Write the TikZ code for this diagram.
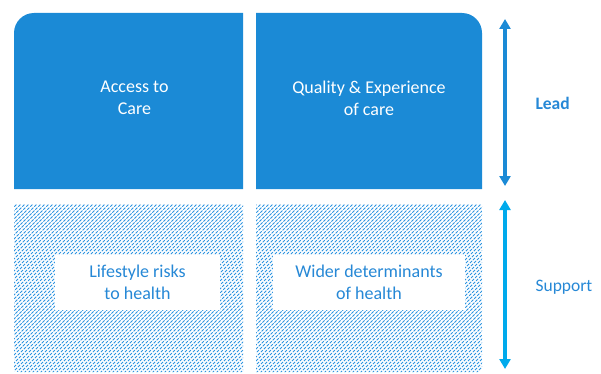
\documentclass[tikz,border=0pt]{standalone}
\usepackage{fontspec}
\setmainfont{Carlito}
\usetikzlibrary{arrows.meta}
\definecolor{leadblue}{RGB}{27,138,214}
\definecolor{supportblue}{RGB}{0,170,236}
\definecolor{hatchblue}{RGB}{45,148,224}
\definecolor{labelblue}{RGB}{38,136,214}
\tikzset{
  x=1pt, y=1pt,
  leadbox/.style={fill=leadblue},
  hatchline/.style={draw=hatchblue, line width=0.8pt, dash pattern=on 3pt off 1.2pt},
  boxtext/.style={font=\fontsize{18}{22}\selectfont, align=center, text=white},
  innerbox/.style={fill=white, minimum width=165pt, minimum height=55pt, inner sep=0pt,
    font=\fontsize{18}{22}\selectfont, align=center, text=labelblue},
  sidearrow/.style={line width=3.2pt, {Triangle[width=11pt,length=10pt]}-{Triangle[width=11pt,length=10pt]}},
  sidelabel/.style={font=\fontsize{17.5}{20}\selectfont, text=labelblue, anchor=west}
}
\begin{document}
\begin{tikzpicture}
\useasboundingbox (0,0) rectangle (601,373);
% lead row: two solid boxes, outer top corners rounded
\fill[leadbox] (14,184) -- (14,340) arc[start angle=180,end angle=90,radius=20] -- (243,360) -- (243,184) -- cycle;
\fill[leadbox] (256,184) -- (256,360) -- (462,360) arc[start angle=90,end angle=0,radius=20] -- (482,184) -- cycle;
\node[boxtext] (access) at (134.5,275) {Access to\\Care};
\node[boxtext] (quality) at (369,275) {Quality \& Experience\\of care};
% support row: diagonally hatched boxes
\begin{scope}
  \clip (14,1) -- (14,169) -- (243,169) -- (243,1) -- (18,1) arc[start angle=270,end angle=180,radius=4] -- cycle;
  \foreach \c in {-160,-156,...,244} \draw[hatchline] (\c,0) -- ++(175,175);
\end{scope}
\begin{scope}
  \clip (256,1) -- (256,169) -- (482,169) -- (482,5) arc[start angle=0,end angle=-90,radius=4] -- cycle;
  \foreach \c in {84,88,...,484} \draw[hatchline] (\c,0) -- ++(175,175);
\end{scope}
% white label panels
\node[innerbox] (lifestyle) at (137.5,90.5) {Lifestyle risks\\to health};
\node[innerbox, minimum width=192pt] (wider) at (369,90.5) {Wider determinants\\of health};
% side arrows and their labels
\coordinate (leadtop) at (505,354);
\coordinate (leadbot) at (505,187);
\coordinate (suptop) at (505,173);
\coordinate (supbot) at (505,4);
\draw[sidearrow, leadblue] (leadtop) -- (leadbot);
\draw[sidearrow, supportblue] (suptop) -- (supbot);
\node[sidelabel, font=\fontsize{17.5}{20}\selectfont\bfseries] (lead) at (532,270) {Lead};
\node[sidelabel] (support) at (532,86) {Support};
\end{tikzpicture}
\end{document}
